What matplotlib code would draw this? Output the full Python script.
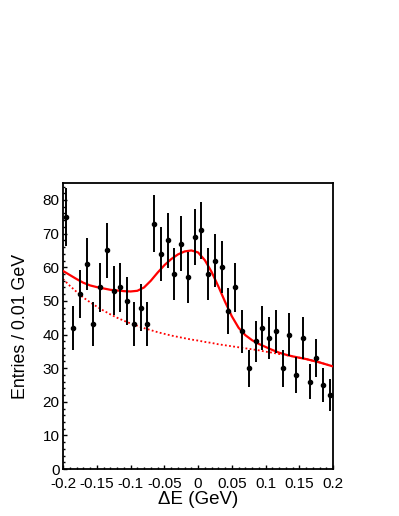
""" Delta E distribution with signal + background fit """
import numpy as np
import matplotlib
matplotlib.use('Agg')
import matplotlib.pyplot as plt
from matplotlib.ticker import MultipleLocator, FixedLocator, FixedFormatter

plt.rcParams['font.family'] = ['Liberation Sans', 'DejaVu Sans']
plt.rcParams['axes.unicode_minus'] = False

# bin centres (0.01 GeV bins) and entries
bin_centers = [-0.195, -0.185, -0.175, -0.165, -0.155, -0.145, -0.135, -0.125,
               -0.115, -0.105, -0.095, -0.085, -0.075, -0.065, -0.055, -0.045,
               -0.035, -0.025, -0.015, -0.005, 0.005, 0.015, 0.025, 0.035,
               0.045, 0.055, 0.065, 0.075, 0.085, 0.095, 0.105, 0.115,
               0.125, 0.135, 0.145, 0.155, 0.165, 0.175, 0.185, 0.195]
entries = [75, 42, 52, 61, 43, 54, 65, 53, 54, 50, 43, 48, 43, 73, 64, 68,
           58, 67, 57, 69, 71, 58, 62, 60, 47, 54, 41, 30, 38, 42, 39, 41,
           30, 40, 28, 39, 26, 33, 25, 22]

# fit curves
curve_x = [-0.20, -0.19, -0.18, -0.17, -0.16, -0.15, -0.14, -0.13, -0.12, -0.11,
           -0.10, -0.09, -0.08, -0.07, -0.06, -0.05, -0.04, -0.03, -0.02, -0.01,
           0.00, 0.01, 0.02, 0.03, 0.04, 0.05, 0.06, 0.07, 0.08, 0.09,
           0.10, 0.11, 0.12, 0.13, 0.14, 0.15, 0.16, 0.17, 0.18, 0.19, 0.20]
fit_total = [58.9, 57.7, 56.5, 55.4, 54.6, 54.1, 53.7, 53.3, 53.1, 52.9,
             52.8, 53.0, 54.0, 56.0, 58.4, 60.6, 62.4, 63.8, 64.7, 65.0,
             64.4, 62.1, 58.6, 54.3, 49.7, 45.4, 42.0, 39.8, 38.3, 37.2,
             36.3, 35.4, 34.6, 34.0, 33.5, 33.1, 32.7, 32.2, 31.7, 31.1, 30.5]
fit_bkg = [56.5, 54.5, 52.7, 51.0, 49.6, 48.3, 47.1, 46.0, 45.0, 44.1,
           43.3, 42.6, 41.9, 41.3, 40.7, 40.2, 39.7, 39.3, 38.9, 38.5,
           38.2, 37.8, 37.5, 37.1, 36.8, 36.5, 36.2, 35.9, 35.6, 35.3,
           34.9, 34.6, 34.2, 33.9, 33.5, 33.1, 32.7, 32.2, 31.7, 31.1, 30.5]

x_ticks = [-0.2, -0.15, -0.1, -0.05, 0, 0.05, 0.1, 0.15, 0.2]
x_ticklabels = ['-0.2', '-0.15', '-0.1', '-0.05', '0', '0.05', '0.1', '0.15', '0.2']

if __name__ == '__main__':
    fig = plt.figure(figsize=(3.99, 5.16), dpi=100)
    ax = fig.add_axes([0.158, 0.091, 0.677, 0.554])

    ax.plot(curve_x, fit_bkg, color='red', lw=1.3, ls=(0, (1, 1.3)), zorder=2)
    ax.plot(curve_x, fit_total, color='red', lw=1.6, zorder=3)

    y = np.array(entries, dtype=float)
    ax.errorbar(bin_centers, y, yerr=np.sqrt(y), fmt='o', color='black',
                ms=3.0, elinewidth=1.4, capsize=0, zorder=4)

    ax.set_xlim(-0.2, 0.2)
    ax.set_ylim(0, 85)

    ax.xaxis.set_major_locator(FixedLocator(x_ticks))
    ax.xaxis.set_major_formatter(FixedFormatter(x_ticklabels))
    ax.xaxis.set_minor_locator(MultipleLocator(0.01))
    ax.yaxis.set_major_locator(MultipleLocator(10))
    ax.yaxis.set_minor_locator(MultipleLocator(2))

    ax.tick_params(which='both', direction='in', top=False, right=False,
                   labelsize=11, width=1.0)
    ax.tick_params(axis='x', pad=6)
    ax.tick_params(axis='y', pad=2.5)
    ax.tick_params(which='major', length=3.2)
    ax.tick_params(which='minor', length=1.6)

    for s in ax.spines.values():
        s.set_linewidth(1.3)

    ax.set_xlabel('\u0394E (GeV)', fontsize=13.5, labelpad=0)
    ax.set_ylabel('Entries / 0.01 GeV', fontsize=12.8, labelpad=10)

    fig.savefig('out.png', dpi=100)
